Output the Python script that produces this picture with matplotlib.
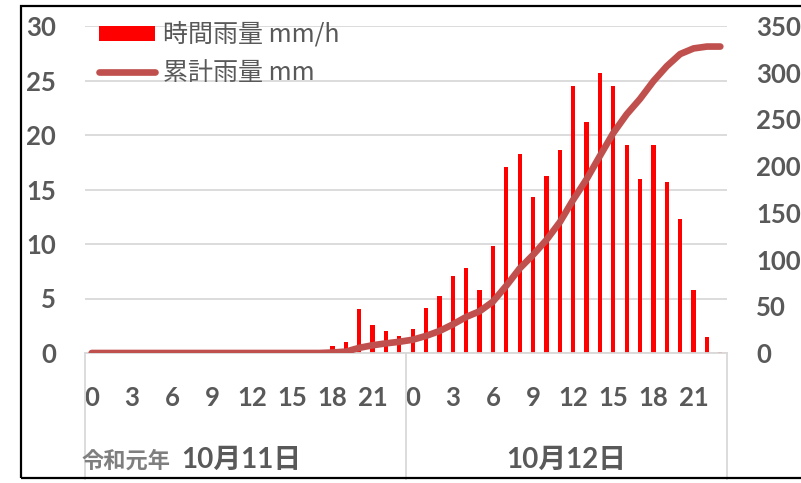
import matplotlib
matplotlib.use("Agg")
import matplotlib.pyplot as plt
import matplotlib.transforms as mtransforms
from matplotlib.patches import Rectangle, Patch
from matplotlib.lines import Line2D

# Hourly and cumulative rainfall, 2019-10-11 00:00 .. 2019-10-12 23:00
hours = list(range(24)) * 2
hourly_mm = [0] * 18 + [0.6, 1.0, 4.0, 2.6, 2.0, 1.6,
                        2.2, 4.1, 5.2, 7.1, 7.8, 5.8,
                        9.8, 17.1, 18.3, 14.3, 16.2, 18.6,
                        24.5, 21.2, 25.7, 24.5, 19.1, 16.0,
                        19.1, 15.7, 12.3, 5.8, 1.5, 0.1]
cumulative_mm = [0] * 18 + [0.5, 1.5, 5.5, 8.3, 10.3, 12.0,
                            14.2, 18.3, 23.5, 30.6, 38.6, 44.6,
                            55.0, 72.0, 90.5, 105.0, 121.0, 140.0,
                            164.0, 186.0, 211.0, 235.5, 255.5, 272.0,
                            291.0, 307.0, 320.0, 326.0, 328.0, 328.0]
tick_hours = [0, 3, 6, 9, 12, 15, 18, 21]
day_labels = ["10月11日", "10月12日"]
era_label = "令和元年"
legend_labels = ["時間雨量 mm/h", "累計雨量 mm"]

GRAY = "#595959"
GRID = "#d9d9d9"
BAR = "#ff0000"
LINE = "#c0504d"
NUM_FONT = ["Lato", "Noto Sans CJK JP", "DejaVu Sans"]
JP_FONT = ["Noto Sans CJK JP", "DejaVu Sans"]

W, H = 801, 483
fig = plt.figure(figsize=(W / 100, H / 100), dpi=100)
fig.patch.set_facecolor("white")

left_px, right_px, top_px, bottom_px = 85, 727, 26, 353
ax = fig.add_axes([left_px / W, 1 - bottom_px / H,
                   (right_px - left_px) / W, (bottom_px - top_px) / H])
ax2 = ax.twinx()

x = list(range(len(hourly_mm)))
ax.bar(x, hourly_mm, width=0.32, color=BAR, zorder=2)
ax2.plot(x, cumulative_mm, color=LINE, lw=4.8, solid_capstyle="round",
         solid_joinstyle="round", zorder=3)

ax.set_xlim(-0.5, len(x) - 0.5)
ax.set_ylim(0, 30)
ax2.set_ylim(0, 350)
ax.set_yticks(range(0, 31, 5))
ax2.set_yticks(range(0, 351, 50))

ax.set_axisbelow(True)
ax.yaxis.grid(True, color=GRID, lw=1.3)
for a in (ax, ax2):
    for s in a.spines.values():
        s.set_visible(False)
ax.spines["bottom"].set_visible(True)
ax.spines["bottom"].set_color(GRID)
ax.spines["bottom"].set_linewidth(1.3)

# category ticks: every 3 hours on both days
xt = [i for i in x if hours[i] in tick_hours]
ax.set_xticks(xt)
ax.set_xticklabels([str(hours[i]) for i in xt])
ax.tick_params(axis="x", length=0, pad=23.5)
ax.tick_params(axis="y", length=0, pad=21)
ax2.tick_params(axis="y", length=0, pad=21)
for lab in ax.get_xticklabels() + ax.get_yticklabels() + ax2.get_yticklabels():
    lab.set_family(NUM_FONT)
    lab.set_fontsize(18.5)
    lab.set_fontweight("bold")
    lab.set_color(GRAY)

# day separators of the two-level category axis
tr = mtransforms.blended_transform_factory(ax.transData, ax.transAxes)
for bx in (-0.5, 23.5, 47.5):
    ax.plot([bx, bx], [0, -0.385], transform=tr, color=GRID, lw=1.3,
            clip_on=False, zorder=1)

ax.text(-0.75, -0.352, era_label, transform=tr, ha="left", va="baseline",
        fontsize=16, fontweight="bold", color="#7f7f7f", family=JP_FONT)
ax.text(6.7, -0.352, day_labels[0], transform=tr, ha="left", va="baseline",
        fontsize=20, fontweight="bold", color=GRAY, family=NUM_FONT)
ax.text(35.5, -0.352, day_labels[1], transform=tr, ha="center", va="baseline",
        fontsize=20, fontweight="bold", color=GRAY, family=NUM_FONT)

handles = [Patch(facecolor=BAR, edgecolor="none"),
           Line2D([], [], color=LINE, lw=4.8, solid_capstyle="round")]
leg = ax2.legend(handles, legend_labels, loc="upper left",
                 bbox_to_anchor=(99 / W, 1 - 22 / H), bbox_transform=fig.transFigure,
                 frameon=False, fontsize=18, handlelength=2.25, handleheight=0.55,
                 handletextpad=0.3, labelspacing=0.47, borderpad=0, borderaxespad=0,
                 prop={"family": JP_FONT, "size": 18})
for t in leg.get_texts():
    t.set_color(GRAY)

# outer frame
fig.patches.append(Rectangle((21 / W, 1 - 478 / H), 1.0, (478 - 6) / H,
                             transform=fig.transFigure, fill=False,
                             edgecolor="black", lw=1.6))

fig.savefig("out.png", dpi=100, facecolor="white")
